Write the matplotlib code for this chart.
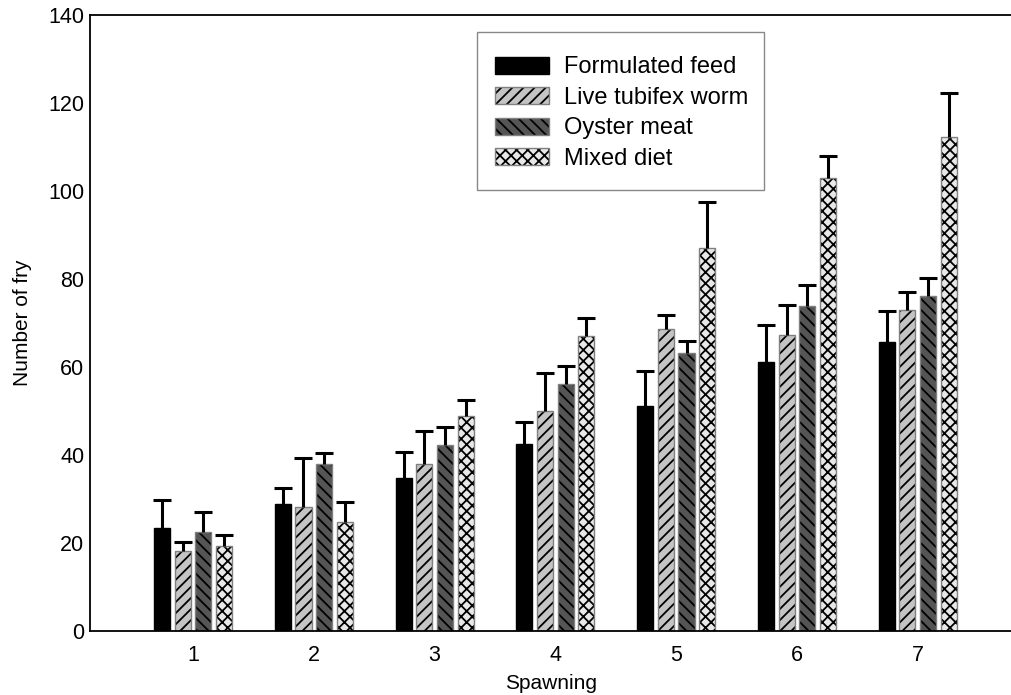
import numpy as np
import matplotlib
matplotlib.use("Agg")
import matplotlib.pyplot as plt
from matplotlib.patches import Rectangle, Patch
from matplotlib.legend_handler import HandlerTuple

plt.rcParams['font.family'] = ['Liberation Sans', 'DejaVu Sans']
plt.rcParams['hatch.linewidth'] = 1.3

spawning = [1, 2, 3, 4, 5, 6, 7]
series_names = ["Formulated feed", "Live tubifex worm", "Oyster meat", "Mixed diet"]
formulated = [23.4, 28.8, 34.8, 42.5, 51.2, 61.2, 65.7]
formulated_err = [6.3, 3.7, 5.9, 4.9, 7.8, 8.2, 7.1]
tubifex = [18.2, 28.2, 37.9, 49.9, 68.5, 67.2, 72.9]
tubifex_err = [2.0, 11.1, 7.6, 8.8, 3.3, 6.9, 4.2]
oyster = [22.5, 37.9, 42.3, 56.2, 63.2, 73.9, 76.2]
oyster_err = [4.6, 2.6, 4.0, 4.1, 2.7, 4.7, 3.9]
mixed = [19.3, 24.7, 48.9, 66.9, 87.1, 102.9, 112.2]
mixed_err = [2.5, 4.6, 3.6, 4.1, 10.3, 5.1, 10.0]
yticks = [0, 20, 40, 60, 80, 100, 120, 140]

values = [formulated, tubifex, oyster, mixed]
errors = [formulated_err, tubifex_err, oyster_err, mixed_err]
faces = ["#000000", "#c4c4c4", "#555555", "#e8e8e8"]
hatches = [None, "///", "\\\\\\", "xxx"]
edges = ["#000000", "#808080", "#808080", "#808080"]

fig = plt.figure(figsize=(10.12, 6.95), dpi=100)
ax = fig.add_axes([90/1012, 1 - 630.7/695, 1 - 90/1012, (630.7 - 15)/695])

x = np.array(spawning, dtype=float)
pitch = 0.171
width = 0.133
for i in range(4):
    pos = x + (i - 1.5) * pitch
    # fill + black hatch
    ax.bar(pos, values[i], width=width, color=faces[i], edgecolor='black',
           hatch=hatches[i], linewidth=0, label=series_names[i], zorder=2)
    # gray outline
    ax.bar(pos, values[i], width=width, fill=False, edgecolor=edges[i],
           linewidth=1.0, zorder=2.5)
    eb = ax.errorbar(pos, values[i], yerr=[np.zeros(len(values[i])), errors[i]],
                     fmt='none', ecolor='black', elinewidth=2.2, capsize=6.2,
                     capthick=2.2, zorder=3)
    eb[1][0].set_visible(False)

ax.set_xlim(0.147, 7.78)
ax.set_ylim(0, 140)
ax.set_xticks(spawning)
ax.set_xticklabels([str(s) for s in spawning])
ax.set_yticks(yticks)
ax.tick_params(axis='both', length=0, labelsize=15.5, pad=4)
ax.tick_params(axis='x', pad=10)
for s in ['left', 'top', 'bottom']:
    ax.spines[s].set_linewidth(1.3)
ax.spines['right'].set_visible(False)

ax.set_xlabel("Spawning", fontsize=15, labelpad=6)
ax.set_ylabel("Number of fry", fontsize=15, labelpad=12)

# legend frame
ax.add_patch(Rectangle((0.4197, 0.7158), 0.731 - 0.4197, 0.9724 - 0.7158,
                       transform=ax.transAxes, facecolor='white',
                       edgecolor='#888888', linewidth=1.0, zorder=4))

leg_handles = []
for i in range(4):
    fillp = Patch(facecolor=faces[i], edgecolor='black', hatch=hatches[i],
                  linewidth=0)
    outl = Patch(facecolor='none', edgecolor=edges[i], linewidth=1.0)
    leg_handles.append((fillp, outl))
leg = ax.legend(leg_handles, series_names, loc='center left',
                bbox_to_anchor=(0.4393, 0.8405), fontsize=17,
                frameon=False, handlelength=2.29, handleheight=0.75,
                labelspacing=0.36, borderpad=0, handletextpad=0.62,
                borderaxespad=0,
                handler_map={tuple: HandlerTuple(ndivide=1, pad=0)})
leg.set_zorder(5)

fig.savefig("out.png", dpi=100)
